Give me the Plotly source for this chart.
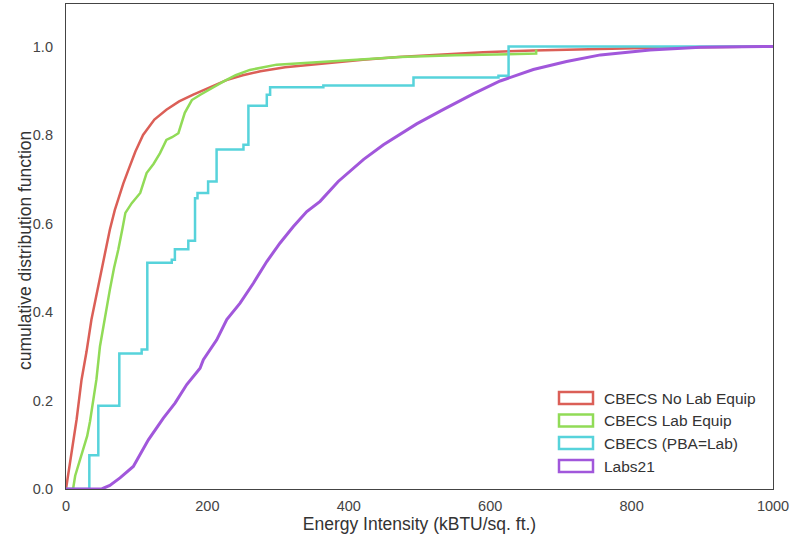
import plotly.graph_objects as go

# Series readings (x = energy intensity, y = CDF)
red_x = [0, 8, 15, 22, 29, 36, 48, 55, 62, 69, 75, 81, 88, 98, 109, 125, 142, 160, 180, 200, 227, 250, 275, 310, 359, 420, 470, 520, 590, 661, 730, 803, 900, 1000]
red_y = [0, 0.08, 0.157, 0.247, 0.31, 0.383, 0.48, 0.535, 0.586, 0.63, 0.663, 0.69, 0.72, 0.762, 0.80, 0.835, 0.857, 0.876, 0.891, 0.905, 0.924, 0.935, 0.944, 0.953, 0.961, 0.970, 0.976, 0.981, 0.987, 0.991, 0.994, 0.996, 0.998, 1.0]

green_x = [0, 10, 13, 16, 20, 25, 30, 34, 39, 43, 48, 55, 62, 68, 74, 80, 84, 93, 105, 114, 124, 133, 142, 150, 159, 168, 178, 190, 205, 223, 240, 260, 298, 331, 359, 420, 473, 550, 624, 665, 665]
green_y = [0, 0, 0.03, 0.045, 0.066, 0.09, 0.12, 0.153, 0.2, 0.247, 0.322, 0.39, 0.45, 0.5, 0.541, 0.59, 0.624, 0.646, 0.669, 0.714, 0.735, 0.759, 0.789, 0.795, 0.804, 0.85, 0.879, 0.891, 0.905, 0.921, 0.935, 0.947, 0.959, 0.962, 0.966, 0.971, 0.976, 0.98, 0.983, 0.984, 0.993]

cyan_x = [0, 33, 45.7, 75.4, 107, 115, 149.6, 154, 173, 182.5, 186, 201, 213, 251, 258, 284, 288.7, 364, 491.5, 611.7, 626, 1000]
cyan_y = [0, 0.076, 0.188, 0.306, 0.315, 0.511, 0.518, 0.542, 0.561, 0.657, 0.669, 0.695, 0.767, 0.778, 0.866, 0.891, 0.908, 0.912, 0.93, 0.934, 1.0, 1.0]

purple_x = [0, 50.5, 62, 76.4, 95.2, 116.5, 137.7, 154.2, 170.8, 189.6, 194.3, 213.2, 227.4, 246.2, 265, 284, 302.8, 321.6, 340.6, 359.4, 385, 421, 449, 496, 534, 576, 614, 661, 708, 756, 826, 897, 1000]
purple_y = [0, 0, 0.008, 0.025, 0.051, 0.111, 0.16, 0.194, 0.236, 0.273, 0.292, 0.337, 0.383, 0.42, 0.465, 0.514, 0.556, 0.593, 0.627, 0.65, 0.695, 0.745, 0.778, 0.825, 0.858, 0.893, 0.922, 0.948, 0.966, 0.981, 0.992, 0.998, 1.0]

names = ["CBECS No Lab Equip", "CBECS Lab Equip", "CBECS (PBA=Lab)", "Labs21"]
colors = ["#db5f57", "#91db57", "#57d3db", "#a157db"]
shapes = ["linear", "linear", "hv", "linear"]
widths = [2.5, 2.5, 2.5, 3]

xticks = [0, 200, 400, 600, 800, 1000]
yticks = [0.0, 0.2, 0.4, 0.6, 0.8, 1.0]

W, H = 790, 543
ML, MR, MT, MB = 66, 17, 4, 54
PW, PH = W - ML - MR, H - MT - MB

fig = go.Figure()
series = [(red_x, red_y), (green_x, green_y), (cyan_x, cyan_y), (purple_x, purple_y)]
for (xs, ys), n, c, s, w in zip(series, names, colors, shapes, widths):
    fig.add_trace(go.Scatter(x=xs, y=ys, mode="lines", line=dict(color=c, width=w, shape=s),
                             showlegend=False, name=n))

def px_x(p):
    return (p - ML) / PW

def px_y(p):
    return (H - MB - p) / PH

# Legend drawn as outlined patches (like the reference) plus text labels
leg_centers = [398, 420.5, 443, 466]
for n, c, cy in zip(names, colors, leg_centers):
    fig.add_shape(type="rect", xref="paper", yref="paper",
                  x0=px_x(559), x1=px_x(593), y0=px_y(cy + 6), y1=px_y(cy - 6),
                  line=dict(color=c, width=2.5), fillcolor="white", layer="above")
    fig.add_annotation(xref="paper", yref="paper", x=px_x(602), y=px_y(cy),
                       xanchor="left", yanchor="middle", showarrow=False, text=n,
                       font=dict(size=15.5, color="#333333"))

# y-axis title
fig.add_annotation(xref="paper", yref="paper", x=px_x(25), y=px_y(251),
                   xanchor="center", yanchor="middle", showarrow=False, textangle=-90,
                   text="cumulative distribution function",
                   font=dict(size=17.5, color="#333333"))

fig.update_layout(
    width=W, height=H,
    margin=dict(l=ML, r=MR, t=MT, b=MB, autoexpand=False),
    paper_bgcolor="white", plot_bgcolor="white",
    font=dict(family="Liberation Sans, Arial, sans-serif", size=14, color="#333333"),
    showlegend=False,
    xaxis=dict(range=[0, 1000], tickvals=xticks, ticktext=[str(v) for v in xticks],
               showgrid=False, zeroline=False, showline=True, mirror=True,
               linecolor="#444444", linewidth=1.25, ticks="", automargin=False,
               ticklabelstandoff=3,
               tickfont=dict(size=14.5, color="#444444"),
               title=dict(text="Energy Intensity (kBTU/sq. ft.)", font=dict(size=17.5, color="#333333"), standoff=2)),
    yaxis=dict(range=[0, 1.096], tickvals=yticks, ticktext=["%.1f" % v for v in yticks],
               showgrid=False, zeroline=False, showline=True, mirror=True,
               linecolor="#444444", linewidth=1.25, ticks="", automargin=False,
               ticklabelstandoff=9,
               tickfont=dict(size=14.5, color="#444444")),
)

fig.write_html("out.html", config={"displayModeBar": False},
               post_script="document.body.style.margin='0';")
